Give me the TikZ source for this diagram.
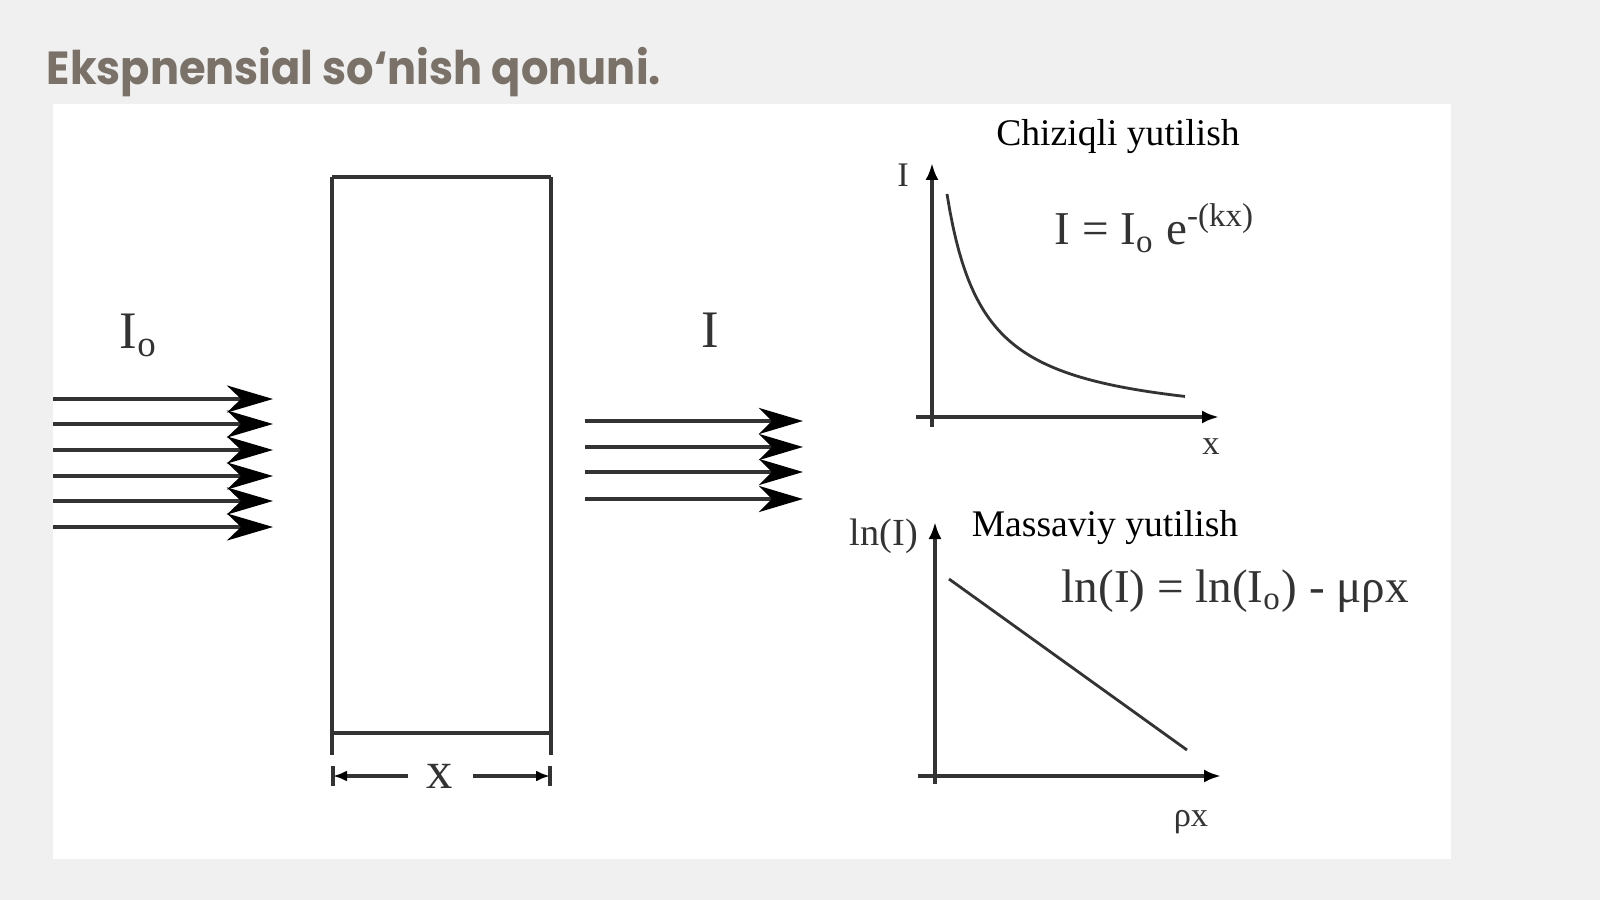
\documentclass[tikz,border=0pt]{standalone}
\usepackage{fontspec}
\setmainfont{Liberation Serif}
\newfontfamily\titlefont{Poppins}[FakeStretch=0.93]
\usetikzlibrary{arrows.meta}
\pgfdeclarelayer{bglayer}
\pgfdeclarelayer{edgelayer}
\pgfdeclarelayer{nodelayer}
\pgfsetlayers{bglayer,edgelayer,nodelayer,main}
\definecolor{slidegray}{HTML}{F0F0F0}
\definecolor{titlegray}{HTML}{7A7168}
\definecolor{inkgray}{HTML}{333333}
\tikzstyle{none}=[inner sep=0pt]
\tikzstyle{beam}=[draw=inkgray, line width=1.1pt, -{Stealth[length=4.6mm,width=2.7mm,inset=1.4mm,color=black]}]
\tikzstyle{beamshort}=[draw=inkgray, line width=1.1pt, -{Stealth[length=4.4mm,width=2.6mm,inset=1.3mm,color=black]}]
\tikzstyle{slab}=[draw=inkgray, line width=1.1pt]
\tikzstyle{dimline}=[draw=inkgray, line width=1pt, -{Latex[length=1.4mm,width=1.1mm,color=black]}]
\tikzstyle{axisline}=[draw=inkgray, line width=1pt, -{Latex[length=1.7mm,width=1.3mm,color=black]}]
\tikzstyle{trace}=[draw=inkgray, line width=0.8pt]
\tikzstyle{heading}=[inner sep=0pt, text=titlegray, font={\titlefont\bfseries\fontsize{13.2pt}{16pt}\selectfont}]
\tikzstyle{biglabel}=[inner sep=0pt, text=inkgray, font={\fontsize{15pt}{18pt}\selectfont}]
\tikzstyle{plottitle}=[inner sep=0pt, font={\fontsize{10.7pt}{13pt}\selectfont}]
\tikzstyle{formula}=[inner sep=0pt, text=inkgray, font={\fontsize{13.4pt}{16pt}\selectfont}]
\tikzstyle{axislabel}=[inner sep=0pt, text=inkgray, font={\fontsize{9.8pt}{12pt}\selectfont}]
\tikzstyle{loglabel}=[inner sep=0pt, text=inkgray, font={\fontsize{10.9pt}{13pt}\selectfont}]

\begin{document}
\begin{tikzpicture}[x=0.1mm, y=-0.1mm]
	\begin{pgfonlayer}{bglayer}
		\fill[slidegray] (0, 0) rectangle (1600, 900);
		\fill[white] (53, 104) rectangle (1451, 859);
		\useasboundingbox (0, 0) rectangle (1600, 900);
	\end{pgfonlayer}
	\begin{pgfonlayer}{nodelayer}
		\node [style=none] (0) at (53, 399) {};
		\node [style=none] (1) at (53, 424) {};
		\node [style=none] (2) at (53, 450) {};
		\node [style=none] (3) at (53, 476) {};
		\node [style=none] (4) at (53, 501) {};
		\node [style=none] (5) at (53, 527) {};
		\node [style=none] (6) at (273, 399) {};
		\node [style=none] (7) at (273, 424) {};
		\node [style=none] (8) at (273, 450) {};
		\node [style=none] (9) at (273, 476) {};
		\node [style=none] (10) at (273, 501) {};
		\node [style=none] (11) at (273, 527) {};
		\node [style=none] (12) at (585, 421) {};
		\node [style=none] (13) at (585, 447) {};
		\node [style=none] (14) at (585, 472) {};
		\node [style=none] (15) at (585, 499) {};
		\node [style=none] (16) at (803, 421) {};
		\node [style=none] (17) at (803, 447) {};
		\node [style=none] (18) at (803, 472) {};
		\node [style=none] (19) at (803, 499) {};
		\node [style=none] (20) at (332, 177) {};
		\node [style=none] (21) at (551, 177) {};
		\node [style=none] (22) at (551, 733) {};
		\node [style=none] (23) at (332, 733) {};
		\node [style=none] (24) at (332, 755) {};
		\node [style=none] (25) at (551, 755) {};
		\node [style=none] (26) at (333, 766) {};
		\node [style=none] (27) at (333, 786) {};
		\node [style=none] (28) at (550, 766) {};
		\node [style=none] (29) at (550, 786) {};
		\node [style=none] (30) at (333, 776) {};
		\node [style=none] (31) at (408, 776) {};
		\node [style=none] (32) at (473, 776) {};
		\node [style=none] (33) at (550, 776) {};
		\node [style=biglabel] (34) at (440, 776) {x};
		\node [style=biglabel, anchor=base west] (35) at (119, 349) {I\textsubscript{o}};
		\node [style=biglabel, anchor=base west] (36) at (701, 347) {I};
		\node [style=none] (37) at (932, 427) {};
		\node [style=none] (38) at (932, 163) {};
		\node [style=none] (39) at (916, 417) {};
		\node [style=none] (40) at (1219, 417) {};
		\node [style=axislabel, anchor=base] (41) at (903, 187) {I};
		\node [style=axislabel, anchor=base] (42) at (1211, 455) {x};
		\node [style=plottitle, anchor=base] (43) at (1118, 146) {Chiziqli yutilish};
		\node [style=formula, anchor=base west] (44) at (1054, 245) {I = I\textsubscript{o} e\textsuperscript{-(kx)}};
		\node [style=none] (45) at (935, 784) {};
		\node [style=none] (46) at (935, 522) {};
		\node [style=none] (47) at (918, 776) {};
		\node [style=none] (48) at (1221, 776) {};
		\node [style=none] (49) at (949, 579) {};
		\node [style=none] (50) at (1187, 750) {};
		\node [style=loglabel, anchor=base] (51) at (884, 545) {ln(I)};
		\node [style=plottitle, anchor=base] (52) at (1105, 536) {Massaviy yutilish};
		\node [style=formula, anchor=base west] (53) at (1061, 602) {ln(I) = ln(I\textsubscript{o}) - μρx};
		\node [style=axislabel, anchor=base] (54) at (1191, 826) {ρx};
		\node [style=heading, anchor=base west] (55) at (46, 85) {Ekspnensial so‘nish qonuni.};
	\end{pgfonlayer}
	\begin{pgfonlayer}{edgelayer}
		\draw [style=beam] (0.center) to (6.center);
		\draw [style=beam] (1.center) to (7.center);
		\draw [style=beam] (2.center) to (8.center);
		\draw [style=beam] (3.center) to (9.center);
		\draw [style=beam] (4.center) to (10.center);
		\draw [style=beam] (5.center) to (11.center);
		\draw [style=beamshort] (12.center) to (16.center);
		\draw [style=beamshort] (13.center) to (17.center);
		\draw [style=beamshort] (14.center) to (18.center);
		\draw [style=beamshort] (15.center) to (19.center);
		\draw [style=slab] (20.center) to (24.center);
		\draw [style=slab] (21.center) to (25.center);
		\draw [style=slab] (20.center) to (21.center);
		\draw [style=slab] (23.center) to (22.center);
		\draw [style=slab] (26.center) to (27.center);
		\draw [style=slab] (28.center) to (29.center);
		\draw [style=dimline] (31.center) to (30.center);
		\draw [style=dimline] (32.center) to (33.center);
		\draw [style=axisline] (37.center) to (38.center);
		\draw [style=axisline] (39.center) to (40.center);
		\draw [style=trace] plot [domain=947:1185, samples=80] (\x, {427.9 - 8653/(\x - 910)});
		\draw [style=axisline] (45.center) to (46.center);
		\draw [style=axisline] (47.center) to (48.center);
		\draw [style=trace] (49.center) to (50.center);
	\end{pgfonlayer}
\end{tikzpicture}
\end{document}
